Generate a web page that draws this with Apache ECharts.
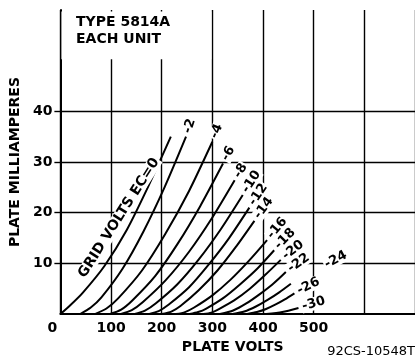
<!DOCTYPE html>
<html>
<head>
<meta charset="utf-8">
<script src="https://cdn.jsdelivr.net/npm/echarts@6/dist/echarts.min.js"></script>
<style>
  html, body { margin: 0; padding: 0; background: #fff; }
  #plate_chart { width: 415px; height: 359px; }
</style>
</head>
<body>
<div id="plate_chart"></div>
<script>
// 5814A plate characteristics, each unit: [plate volts, plate mA]
var gridVolts = ["GRID VOLTS EC=0", "-2", "-4", "-6", "-8", "-10", "-12", "-14", "-16", "-18", "-20", "-22", "-24", "-26", "-30"];

var ec0 = [[0, 0], [20, 1.8], [44, 4.2], [87, 9.5], [131, 16.6], [174, 25.3], [218, 35]];
var ec2 = [[39, 0], [60, 1.3], [81, 3.3], [123, 9.0], [164, 16.3], [206, 25.1], [248, 35]];
var ec4 = [[68, 0], [91, 1.1], [114, 3.1], [161, 8.6], [207, 15.8], [254, 24.3], [300, 34]];
var ec6 = [[97, 0], [120, 0.9], [142, 2.7], [187, 7.5], [231, 13.8], [276, 21.3], [321, 29.7]];
var ec8 = [[118, 0], [141, 0.8], [163, 2.4], [208, 6.7], [254, 12.3], [299, 18.9], [344, 26.4]];
var ec10 = [[145, 0], [167, 0.7], [188, 2.1], [231, 5.9], [274, 10.9], [317, 16.8], [360, 23.5]];
var ec12 = [[174, 0], [194, 0.6], [214, 1.9], [254, 5.3], [293, 9.8], [333, 15.0], [373, 21]];
var ec14 = [[200, 0], [219, 0.5], [237, 1.6], [273, 4.7], [310, 8.6], [346, 13.2], [383, 18.4]];
var ec16 = [[228, 0], [246, 0.4], [264, 1.3], [300, 3.7], [336, 6.8], [372, 10.5], [408, 14.6]];
var ec18 = [[255, 0], [272, 0.4], [288, 1.1], [322, 3.2], [355, 5.9], [389, 9.0], [422, 12.6]];
var ec20 = [[282, 0], [298, 0.3], [313, 1.0], [343, 2.7], [374, 5.0], [404, 7.7], [435, 10.7]];
var ec22 = [[315, 0], [341, 0.7], [367, 2.1], [393, 3.9], [419, 5.9], [445, 8.3]];
var ec24 = [[340, 0], [363, 0.5], [386, 1.5], [409, 2.8], [432, 4.3], [455, 6.0]];
var ec26 = [[369, 0], [388, 0.4], [406, 1.0], [425, 1.9], [443, 2.9], [462, 4.1]];
var ec30 = [[406, 0], [438, 0.4], [470, 1.2]];

var curves = [ec0, ec2, ec4, ec6, ec8, ec10, ec12, ec14, ec16, ec18, ec20, ec22, ec24, ec26, ec30];

var xTickLabels = [0, 100, 200, 300, 400, 500];
var yTickLabels = [10, 20, 30, 40];

// label styling per curve (angle in degrees, gap in px from curve end)
var labelRotate = [57.6, 72, 68, 62, 58, 57, 56, 54, 50, 46, 38, 35, 28, 27, 16];
var labelGap = [6, 3, 3, 3, 3, 3, 3, 3, 3, 3, 3, 3, 38, 3, 3];

var FONT = "DejaVu Sans";

function init_echart_plate(container) {
  var chartDom = document.getElementById(container);
  var myChart = echarts.init(chartDom);

  var series = [];
  curves.forEach(function (pts) {
    series.push({
      type: "line",
      data: pts,
      smooth: 0.25,
      symbol: "none",
      silent: true,
      lineStyle: { color: "#000", width: 2 },
    });
  });

  // curve labels, hung on the end of each curve (Ec=0 sits along it)
  var labelData = curves.map(function (pts, i) {
    var p = i === 0 ? pts[4] : pts[pts.length - 1];
    return {
      value: p,
      label: {
        formatter: gridVolts[i],
        rotate: labelRotate[i],
        offset: [labelGap[i], i === 0 ? -13 : 0],
        align: i === 0 ? "center" : "left",
        fontSize: i === 0 ? 14 : 13,
      },
    };
  });

  series.push({
    type: "scatter",
    data: labelData,
    symbolSize: 0,
    silent: true,
    z: 5,
    itemStyle: { opacity: 1 },
    label: {
      show: true,
      position: "inside",
      verticalAlign: "middle",
      color: "#000",
      opacity: 1,
      fontFamily: FONT,
      fontWeight: "bold",
      backgroundColor: "#fff",
      padding: [0, 1],
    },
    // blank box behind the type note
    markArea: {
      silent: true,
      itemStyle: { color: "#fff", opacity: 1 },
      data: [[{ coord: [2, 50.3] }, { coord: [298, 59.7] }]],
    },
  });

  var option = {
    animation: false,
    backgroundColor: "#fff",
    title: [
      {
        text: "TYPE 5814A\nEACH UNIT",
        left: 76,
        top: 14,
        padding: 0,
        textStyle: { fontFamily: FONT, fontWeight: "bold", fontSize: 14, lineHeight: 17, color: "#000" },
      },
      {
        text: "92CS-10548T",
        right: 0,
        top: 345,
        padding: 0,
        textStyle: { fontFamily: FONT, fontWeight: "normal", fontSize: 13, color: "#000" },
      },
    ],
    grid: { left: 57, top: 10, width: 362, height: 308 },
    xAxis: {
      type: "value",
      min: 0,
      max: 700,
      interval: 100,
      name: "PLATE VOLTS",
      nameLocation: "middle",
      nameGap: 24,
      nameTextStyle: { fontFamily: FONT, fontWeight: "bold", fontSize: 14, color: "#000", padding: [0, 10, 0, 0] },
      axisLine: { show: true, lineStyle: { color: "#000", width: 2 } },
      axisTick: { show: false },
      axisLabel: {
        margin: 7,
        fontFamily: FONT,
        fontWeight: "bold",
        fontSize: 14,
        color: "#000",
        customValues: xTickLabels,
        formatter: function (v) {
          return v === 0 ? "{z|0}" : String(v);
        },
        rich: { z: { fontFamily: FONT, fontWeight: "bold", fontSize: 14, color: "#000", padding: [0, 16, 0, 0] } },
      },
      splitLine: { show: true, lineStyle: { color: "#000", width: 1.4 } },
    },
    yAxis: {
      type: "value",
      min: 0,
      max: 60,
      interval: 10,
      name: "PLATE MILLIAMPERES",
      nameLocation: "middle",
      nameGap: 36,
      nameTextStyle: { fontFamily: FONT, fontWeight: "bold", fontSize: 14, color: "#000" },
      axisLine: { show: true, lineStyle: { color: "#000", width: 2 } },
      axisTick: { show: true, length: 6, customValues: yTickLabels, lineStyle: { color: "#000", width: 1.4 } },
      axisLabel: {
        margin: 8,
        fontFamily: FONT,
        fontWeight: "bold",
        fontSize: 14,
        color: "#000",
        customValues: yTickLabels,
      },
      splitLine: { show: true, lineStyle: { color: "#000", width: 1.4 } },
    },
    series: series,
  };

  window.addEventListener("resize", function () {
    myChart.resize();
  });
  myChart.setOption(option);
}

init_echart_plate("plate_chart");
</script>
</body>
</html>
